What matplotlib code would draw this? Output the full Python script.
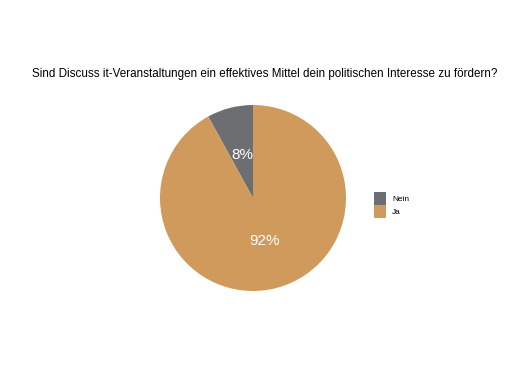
import matplotlib.pyplot as plt

labels = ["Nein", "Ja"]
values = [8, 92]
colors = ["#6d6e71", "#cf9a5c"]
title = "Sind Discuss it-Veranstaltungen ein effektives Mittel dein politischen Interesse zu fördern?"

plt.rcParams["font.family"] = ["Liberation Sans", "DejaVu Sans"]

fig = plt.figure(figsize=(5.1, 3.73), dpi=100)
ax = fig.add_axes([160/510, (373-291)/373, 186/510, 186/373])
wedges, texts, autotexts = ax.pie(values, colors=colors, startangle=90, counterclock=True,
                                  autopct="%d%%", pctdistance=0.48,
                                  textprops={"color": "white", "fontsize": 11})
ax.set_xlim(-1, 1)
ax.set_ylim(-1, 1)
ax.set_aspect("equal")

fig.text(265/510, 1 - 74/373, title, ha="center", va="center", fontsize=8.35)

fig.legend(wedges, labels, loc="center left", bbox_to_anchor=(367/510, 1 - 205/373),
           frameon=False, fontsize=6, handlelength=1.4, handleheight=1.9,
           handletextpad=0.7, labelspacing=0.1)

fig.savefig("out.png", dpi=100)
